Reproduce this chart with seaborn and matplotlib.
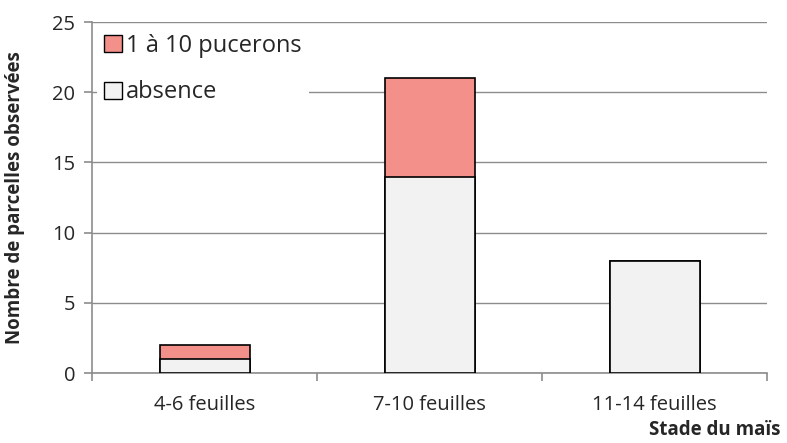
import matplotlib
matplotlib.use('Agg')
import matplotlib.pyplot as plt
import seaborn as sns
import pandas as pd
from matplotlib.patches import Patch

stades = ["4-6 feuilles", "7-10 feuilles", "11-14 feuilles"]
absence = [1, 14, 8]
pucerons = [1, 7, 0]

sns.set_theme(style="white")
plt.rcParams['font.family'] = ['Open Sans', 'DejaVu Sans']

df = pd.DataFrame({"stade": stades, "absence": absence, "pucerons": pucerons})
df["total"] = df["absence"] + df["pucerons"]

col_abs = "#f2f2f2"
col_puc = "#f4908a"

fig, ax = plt.subplots(figsize=(7.87, 4.43), dpi=100)

# stacked look: draw totals first, then absence on top
sns.barplot(data=df, x="stade", y="total", color=col_puc, saturation=1,
            width=0.4, edgecolor="black", linewidth=1.2, ax=ax, zorder=3)
sns.barplot(data=df, x="stade", y="absence", color=col_abs, saturation=1,
            width=0.4, edgecolor="black", linewidth=1.2, ax=ax, zorder=3)

ax.set_ylim(0, 25)
ax.set_xlim(-0.5, 2.5)
ax.set_yticks(range(0, 26, 5))
ax.yaxis.grid(True, color="#8c8c8c", linewidth=1)
ax.set_axisbelow(True)

for s in ["top", "right"]:
    ax.spines[s].set_visible(False)
for s in ["left", "bottom"]:
    ax.spines[s].set_color("#8c8c8c")
    ax.spines[s].set_linewidth(1.2)

ax.set_xticks([0, 1, 2])
ax.set_xticklabels(stades)
ax.set_xticks([-0.5, 0.5, 1.5, 2.5], minor=True)
ax.tick_params(axis="x", which="major", length=0, labelsize=14.5, pad=16)
ax.tick_params(axis="x", which="minor", length=6, color="#8c8c8c", width=1.2, direction="out", bottom=True)
ax.tick_params(axis="y", length=6, color="#8c8c8c", width=1.2, left=True, labelsize=14.5, pad=6)

ax.set_xlabel("Stade du maïs", fontweight="bold", fontsize=13.5)
ax.xaxis.set_label_coords(1.02, -0.135)
ax.xaxis.label.set_horizontalalignment("right")
ax.set_ylabel("Nombre de parcelles observées", fontweight="bold", fontsize=13.5)
ax.yaxis.set_label_coords(-0.1, 0.5)

handles = [Patch(facecolor=col_puc, edgecolor="black", linewidth=1),
           Patch(facecolor=col_abs, edgecolor="black", linewidth=1)]
leg = ax.legend(handles, ["1 à 10 pucerons", "absence"], loc="upper left",
                frameon=True, facecolor="white", edgecolor="none", framealpha=1,
                fontsize=17, handlelength=0.75, handleheight=0.75, handletextpad=0.2,
                labelspacing=0.95, borderaxespad=0.2, borderpad=0.3,
                bbox_to_anchor=(0.0, 1.0))

plt.subplots_adjust(left=0.117, right=0.975, top=0.95, bottom=0.158)
plt.savefig("out.png", dpi=100)
plt.close()
